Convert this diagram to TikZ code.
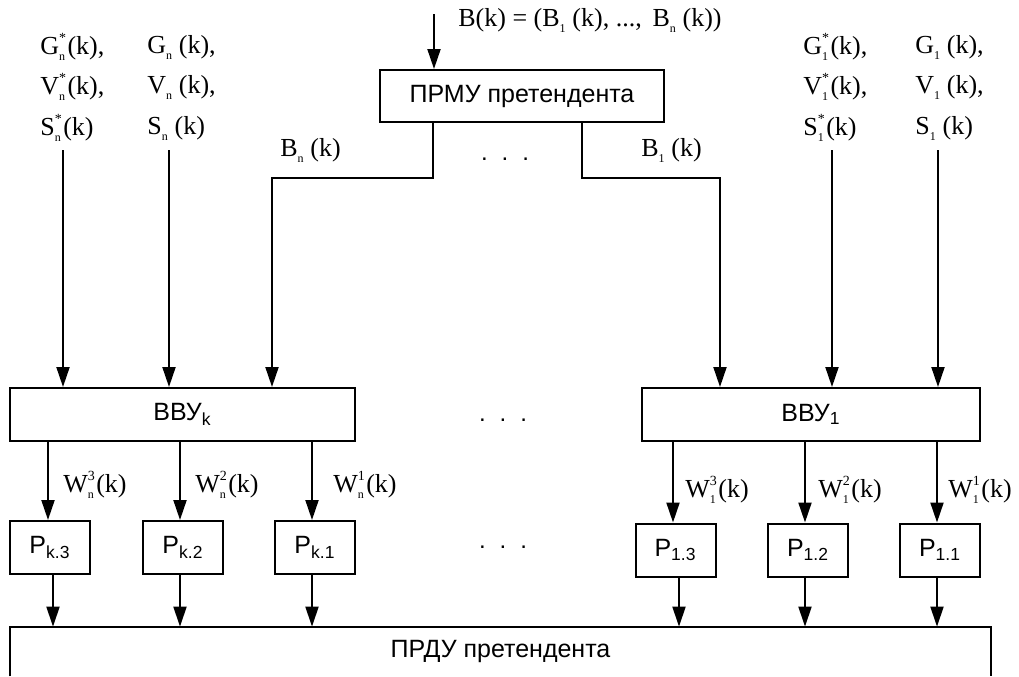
\documentclass[tikz,border=0pt]{standalone}
\usepackage{fontspec}
\setmainfont{Liberation Serif}
\setsansfont{Liberation Sans}
\usetikzlibrary{arrows.meta}
\newcommand\supsub[2]{\rlap{\raisebox{1.05ex}{\fontsize{7}{7}\selectfont #1}}\raisebox{-0.5ex}{\fontsize{6}{6}\selectfont #2}\hspace{1.2pt}}
\begin{document}
\begin{tikzpicture}[x=0.5pt,y=-0.5pt,
  box/.style={draw, line width=1pt, font=\sffamily\fontsize{12.5}{14}\selectfont, inner sep=0pt},
  pbox/.style={box, minimum width=40pt, minimum height=26.5pt},
  lbl/.style={font=\fontsize{13}{15}\selectfont, inner sep=0pt, anchor=west},
  dotsl/.style={font=\sffamily\fontsize{12}{14}\selectfont, inner sep=0pt, anchor=base},
  arr/.style={-{Triangle[length=10pt,width=6.5pt]}, line width=1pt},
  ln/.style={line width=1pt}]
\useasboundingbox (0,0) rectangle (1019,676);

% boxes
\node[box, minimum width=142pt, minimum height=26pt] (prmu) at (522,96) {ПРМУ претендента};
\node[box, minimum width=172.5pt, minimum height=26.5pt] (vvuk) at (182.5,414.5) {ВВУ\textsubscript{k}};
\node[box, minimum width=169pt, minimum height=26.5pt] (vvu1) at (811,414.5) {ВВУ\textsubscript{1}};
\node[pbox] (pk3) at (50,547.5) {P\textsubscript{k.3}};
\node[pbox] (pk2) at (183,547.5) {P\textsubscript{k.2}};
\node[pbox] (pk1) at (315,547.5) {P\textsubscript{k.1}};
\node[pbox] (p13) at (675.5,550) {P\textsubscript{1.3}};
\node[pbox] (p12) at (808,550) {P\textsubscript{1.2}};
\node[pbox] (p11) at (940,550) {P\textsubscript{1.1}};
\node[font=\sffamily\fontsize{12.5}{14}\selectfont, inner sep=0pt, minimum width=490.5pt, minimum height=24.5pt] (prdu) at (500.5,651.5) {ПРДУ претендента};
\draw[ln] (prdu.south west) -- (prdu.north west) -- (prdu.north east) -- (prdu.south east);

% input to PRMU
\coordinate (inB) at (434,14);
\draw[arr] (inB) -- (inB |- prmu.north);
\node[lbl] (blab) at (458,20) {B(k) = (B\supsub{}{1}\,(k), ..., \,B\supsub{}{n}\,(k))};

% PRMU outputs
\coordinate (bl) at (433,178);
\coordinate (tl) at (272,178);
\draw[arr] (prmu.south -| bl) -- (bl) -- (tl) -- (tl |- vvuk.north);
\coordinate (br) at (582,178);
\coordinate (tr) at (720,178);
\draw[arr] (prmu.south -| br) -- (br) -- (tr) -- (tr |- vvu1.north);
\node[lbl] (bnlab) at (280,150) {B\supsub{}{n}\,(k)};
\node[lbl] (b1lab) at (641,150) {B\supsub{}{1}\,(k)};

% top-left labels
\node[lbl] (gsn) at (40,47) {G\supsub{*}{n}(k),};
\node[lbl] (vsn) at (40,87) {V\supsub{*}{n}(k),};
\node[lbl] (ssn) at (40,128) {S\supsub{*}{n}(k)};
\node[lbl] (gn) at (147,47) {G\supsub{}{n}\,(k),};
\node[lbl] (vn) at (147,87) {V\supsub{}{n}\,(k),};
\node[lbl] (sn) at (147,128) {S\supsub{}{n}\,(k)};
% top-right labels
\node[lbl] (gs1) at (803,47) {G\supsub{*}{1}(k),};
\node[lbl] (vs1) at (803,87) {V\supsub{*}{1}(k),};
\node[lbl] (ss1) at (803,128) {S\supsub{*}{1}(k)};
\node[lbl] (g1l) at (915,47) {G\supsub{}{1}\,(k),};
\node[lbl] (v1l) at (915,87) {V\supsub{}{1}\,(k),};
\node[lbl] (s1l) at (915,128) {S\supsub{}{1}\,(k)};

% inputs to VVU
\coordinate (i1) at (63,150);
\coordinate (i2) at (169,150);
\coordinate (i3) at (832,150);
\coordinate (i4) at (938,150);
\draw[arr] (i1) -- (i1 |- vvuk.north);
\draw[arr] (i2) -- (i2 |- vvuk.north);
\draw[arr] (i3) -- (i3 |- vvu1.north);
\draw[arr] (i4) -- (i4 |- vvu1.north);

% VVU -> P
\coordinate (o1) at (48,0);
\coordinate (o2) at (180,0);
\coordinate (o3) at (312,0);
\coordinate (o4) at (673,0);
\coordinate (o5) at (805,0);
\coordinate (o6) at (937,0);
\draw[arr] (o1 |- vvuk.south) -- (o1 |- pk3.north);
\draw[arr] (o2 |- vvuk.south) -- (o2 |- pk2.north);
\draw[arr] (o3 |- vvuk.south) -- (o3 |- pk1.north);
\draw[arr] (o4 |- vvu1.south) -- (o4 |- p13.north);
\draw[arr] (o5 |- vvu1.south) -- (o5 |- p12.north);
\draw[arr] (o6 |- vvu1.south) -- (o6 |- p11.north);

\node[lbl] (w3n) at (63,485) {W\supsub{3}{n}(k)};
\node[lbl] (w2n) at (195,485) {W\supsub{2}{n}(k)};
\node[lbl] (w1n) at (333,485) {W\supsub{1}{n}(k)};
\node[lbl] (w31) at (685,490) {W\supsub{3}{1}(k)};
\node[lbl] (w21) at (818,490) {W\supsub{2}{1}(k)};
\node[lbl] (w11) at (948,490) {W\supsub{1}{1}(k)};

% P -> PRDU
\coordinate (q1) at (53,0);
\coordinate (q2) at (180,0);
\coordinate (q3) at (312,0);
\coordinate (q4) at (679,0);
\coordinate (q5) at (805,0);
\coordinate (q6) at (937,0);
\draw[arr] (q1 |- pk3.south) -- (q1 |- prdu.north);
\draw[arr] (q2 |- pk2.south) -- (q2 |- prdu.north);
\draw[arr] (q3 |- pk1.south) -- (q3 |- prdu.north);
\draw[arr] (q4 |- p13.south) -- (q4 |- prdu.north);
\draw[arr] (q5 |- p12.south) -- (q5 |- prdu.north);
\draw[arr] (q6 |- p11.south) -- (q6 |- prdu.north);

% dots
\node[dotsl] (d1) at (505,160) {.\hspace{7pt}.\hspace{7pt}.};
\node[dotsl] (d2) at (503,421) {.\hspace{7pt}.\hspace{7pt}.};
\node[dotsl] (d3) at (503,548) {.\hspace{7pt}.\hspace{7pt}.};
\end{tikzpicture}
\end{document}
